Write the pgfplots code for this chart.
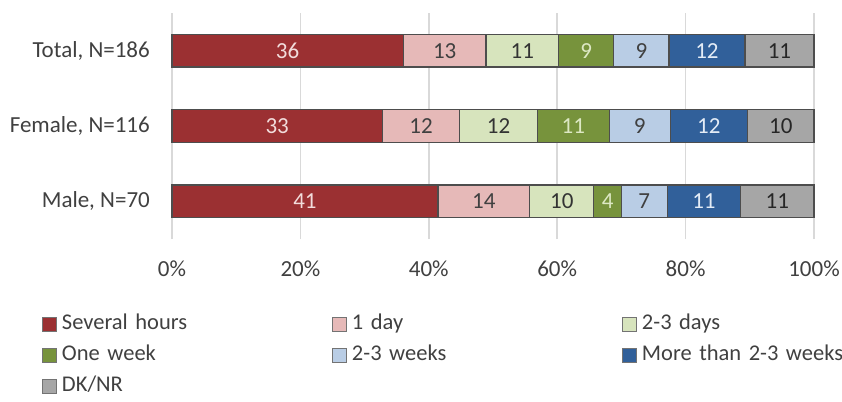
\documentclass[border=0pt]{standalone}
\usepackage{fontspec}
\setmainfont{Carlito}
\usepackage{pgfplots}
\usepackage{pgfplotstable}
\pgfplotsset{compat=1.18}

% segment fills
\definecolor{cHours}{HTML}{9B3032}
\definecolor{cDay}{HTML}{E6B9B8}
\definecolor{cDays}{HTML}{D7E4BD}
\definecolor{cWeek}{HTML}{77933C}
\definecolor{cWeeks}{HTML}{B9CDE5}
\definecolor{cMore}{HTML}{31609A}
\definecolor{cDK}{HTML}{A6A6A6}
% label and line colours
\definecolor{txt}{HTML}{404040}
\definecolor{gridgrey}{HTML}{D9D9D9}
\definecolor{barline}{HTML}{4D4D4D}
\definecolor{lHours}{HTML}{F2DCDB}
\definecolor{lWeek}{HTML}{DDE8C4}
\definecolor{lMore}{HTML}{E4ECF6}

\newcommand{\chartfont}{\fontsize{23}{28}\selectfont}
\newcommand{\legfont}{\fontsize{22.5}{27}\selectfont}

% share of respondents (%) per answer; pos 0 = Male, 1 = Female, 2 = Total
\pgfplotstableread{
pos several oneday days  week  weeks more  dknr
0   41.42   14.29  10.00 4.29  7.14  11.43 11.43
1   32.76   12.07  12.07 11.21 9.48  12.07 10.34
2   36.02   12.90  11.29 8.60  8.60  11.83 10.75
}\shares

\begin{document}
\begin{tikzpicture}
\begin{axis}[
  scale only axis, width=642pt, height=226pt,
  at={(0pt,0pt)}, anchor=south west,
  xbar stacked, bar width=32.5pt,
  xmin=0, xmax=100, ymin=-0.5, ymax=2.5,
  clip=false,
  /pgf/number format/assume math mode=true,
  font=\chartfont, every tick label/.append style={text=txt, font=\chartfont},
  xtick={0,20,40,60,80,100},
  xticklabels={0\%,20\%,40\%,60\%,80\%,100\%},
  xticklabel style={anchor=center, yshift=-30pt},
  ytick={0,1,2},
  yticklabels={{Male, N=70},{Female, N=116},{Total, N=186}},
  yticklabel style={anchor=east, inner sep=0pt, xshift=-22pt},
  xmajorgrids, major grid style={draw=gridgrey, line width=1.5pt},
  axis line style={draw=none}, major tick style={draw=none},
  % rounded value printed in the middle of each segment
  nodes near coords={\pgfmathprintnumber[fixed,precision=0]{\segw}},
  nodes near coords align={center},
  every node near coord/.append style={anchor=center, font=\chartfont},
  legend columns=3,
  legend cell align=left,
  legend image code/.code={\draw[#1,draw=black!55,line width=1pt] (0pt,-7pt) rectangle (14pt,7pt);},
  legend style={at={(-0.2025,-0.326)}, anchor=north west, draw=none, fill=none,
    inner sep=0pt, outer sep=0pt, row sep=8pt, font=\legfont, text=txt,
    nodes={inner sep=0pt, text height=17pt, text depth=6pt},
    /tikz/every odd column/.style={column sep=5pt},
    /tikz/every even column/.style={text width=270pt}},
]
\addplot[fill=cHours, draw=barline, line width=1.2pt,
  visualization depends on={\thisrow{several} \as \segw},
  every node near coord/.append style={text=lHours}]
  table[x=several, y=pos] {\shares};
\addlegendentry{Several hours}
\addplot[fill=cDay, draw=barline, line width=1.2pt,
  visualization depends on={\thisrow{oneday} \as \segw},
  every node near coord/.append style={text=txt}]
  table[x=oneday, y=pos] {\shares};
\addlegendentry{1 day}
\addplot[fill=cDays, draw=barline, line width=1.2pt,
  visualization depends on={\thisrow{days} \as \segw},
  every node near coord/.append style={text=black!80}]
  table[x=days, y=pos] {\shares};
\addlegendentry{2-3 days}
\addplot[fill=cWeek, draw=barline, line width=1.2pt,
  visualization depends on={\thisrow{week} \as \segw},
  every node near coord/.append style={text=lWeek}]
  table[x=week, y=pos] {\shares};
\addlegendentry{One week}
\addplot[fill=cWeeks, draw=barline, line width=1.2pt,
  visualization depends on={\thisrow{weeks} \as \segw},
  every node near coord/.append style={text=txt}]
  table[x=weeks, y=pos] {\shares};
\addlegendentry{2-3 weeks}
\addplot[fill=cMore, draw=barline, line width=1.2pt,
  visualization depends on={\thisrow{more} \as \segw},
  every node near coord/.append style={text=lMore}]
  table[x=more, y=pos] {\shares};
\addlegendentry{More than 2-3 weeks}
\addplot[fill=cDK, draw=barline, line width=1.2pt,
  visualization depends on={\thisrow{dknr} \as \segw},
  every node near coord/.append style={text=black!85}]
  table[x=dknr, y=pos] {\shares};
\addlegendentry{DK/NR}
\end{axis}
\pgfresetboundingbox
\path[use as bounding box] (-172pt,-162pt) rectangle (670pt,239pt);
\end{tikzpicture}
\end{document}
